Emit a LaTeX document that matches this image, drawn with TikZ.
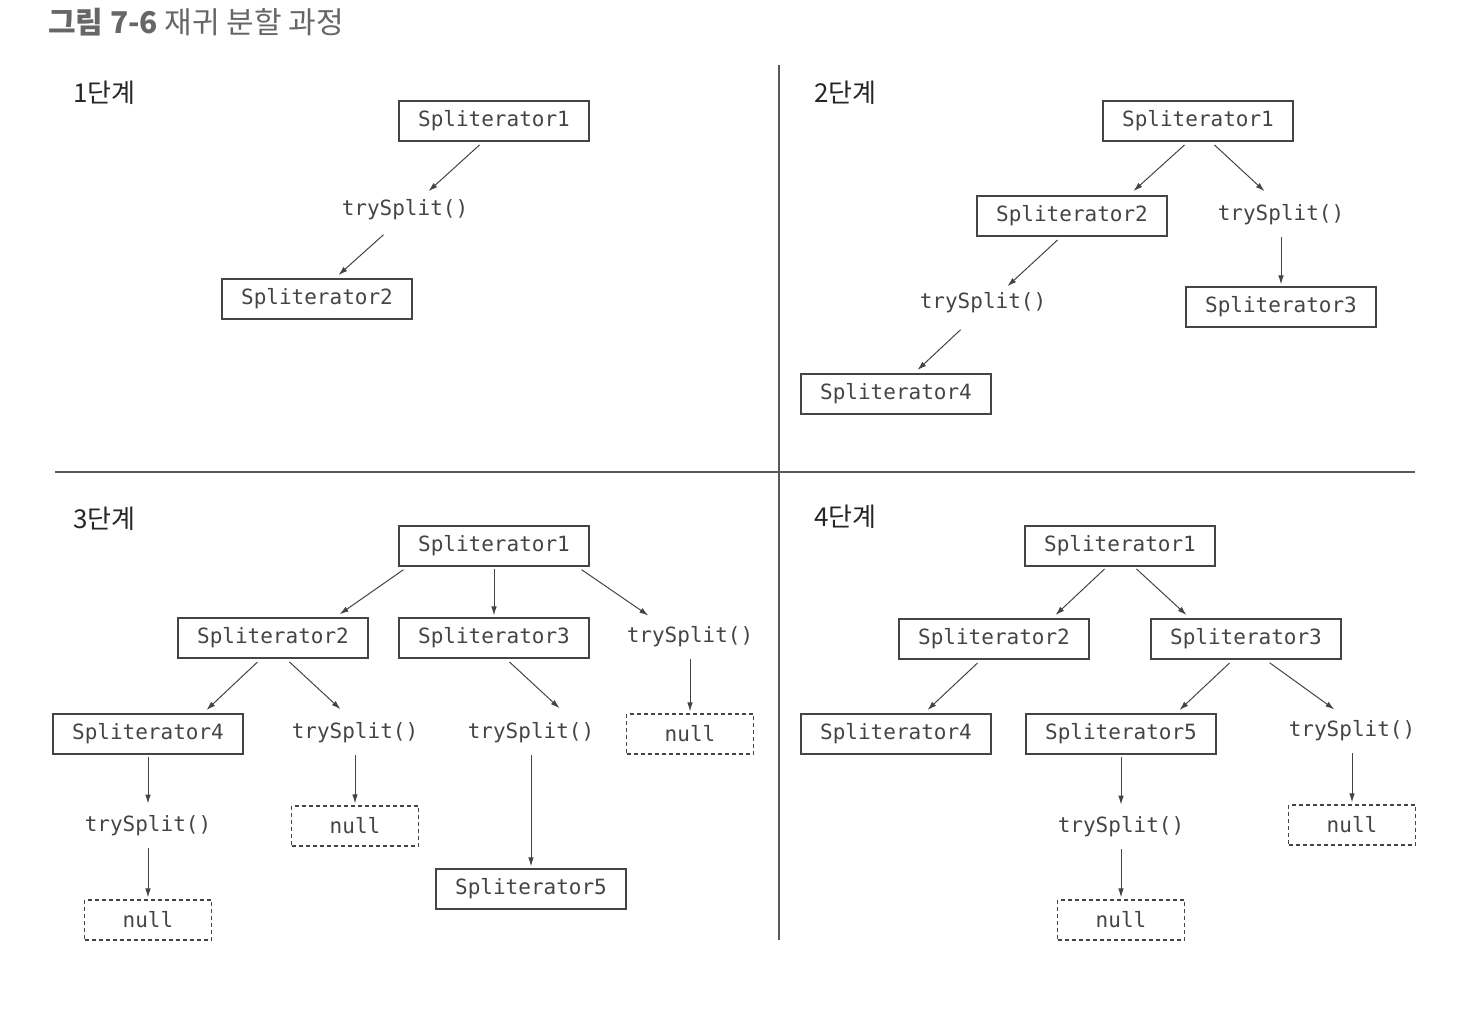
\documentclass[tikz,border=0pt]{standalone}
\usepackage{fontspec}
\setmonofont{DejaVu Sans Mono}
\newfontfamily\krfont{Noto Sans CJK KR}
\usetikzlibrary{arrows.meta,calc}
\definecolor{ink}{HTML}{444444}

\begin{document}
\begin{tikzpicture}[x=0.5pt, y=-0.5pt,
  font=\ttfamily\fontsize{10.5}{12}\selectfont, text=ink,
  sp/.style={draw=ink, line width=0.6pt, minimum width=95pt, minimum height=20pt, inner sep=0pt},
  nul/.style={sp, dash pattern=on 2pt off 1.5pt, minimum width=63.5pt},
  op/.style={minimum height=20pt, inner sep=0pt},
  fl/.style={-{Latex[length=4.5pt,width=2.8pt]}, draw=ink, line width=0.5pt,
             shorten <=1pt, shorten >=1pt},
  stage/.style={font=\krfont\fontsize{13}{15}\selectfont, text=black!85, anchor=west},
  sep/.style={draw=black!65, line width=0.6pt}]

\useasboundingbox (0,0) rectangle (1467,1023);

\node[anchor=west, font=\krfont\fontsize{15}{17}\selectfont, text=black!60] (title) at (41,22)
  {\textbf{그림 7-6} 재귀 분할 과정};

% the four panels
\draw[sep] (779,65) -- (779,940);
\draw[sep] (55,472) -- (1415,472);

% 1단계
\node[stage] (st1) at (66,93) {1단계};
\node[sp] (p1s1) at (494,121) {Spliterator1};
\node[op] (p1t) at (405,210) {trySplit()};
\node[sp] (p1s2) at (317,299) {Spliterator2};
\draw[fl] ($(p1s1.south)+(-13,2)$) -- ($(p1t.north)+(22,3)$);
\draw[fl] ($(p1t.south)+(-20,3)$) -- ($(p1s2.north)+(20,-2)$);

% 2단계
\node[stage] (st2) at (807,93) {2단계};
\node[sp] (p2s1) at (1198,121) {Spliterator1};
\node[sp] (p2s2) at (1072,216) {Spliterator2};
\node[op] (p2t1) at (1281,215) {trySplit()};
\node[sp] (p2s3) at (1281,307) {Spliterator3};
\node[op] (p2t2) at (983,303) {trySplit()};
\node[sp] (p2s4) at (896,394) {Spliterator4};
\draw[fl] ($(p2s1.south)+(-12,2)$) -- ($(p2s2.north)+(60,-3)$);
\draw[fl] ($(p2s1.south)+(15,2)$) -- ($(p2t1.north)+(-15,-2)$);
\draw[fl] (p2t1) -- (p2s3);
\draw[fl] ($(p2s2.south)+(-13,2)$) -- ($(p2t2.north)+(23,5)$);
\draw[fl] ($(p2t2.south)+(-21,5)$) -- ($(p2s4.north)+(20,-2)$);

% 3단계
\node[stage] (st3) at (66,519) {3단계};
\node[sp] (p3s1) at (494,546) {Spliterator1};
\node[sp] (p3s2) at (273,638) {Spliterator2};
\node[sp] (p3s3) at (494,638) {Spliterator3};
\node[op] (p3t1) at (690,637) {trySplit()};
\node[nul] (p3n1) at (690,734) {null};
\node[sp] (p3s4) at (148,734) {Spliterator4};
\node[op] (p3t2) at (355,733) {trySplit()};
\node[op] (p3t3) at (531,733) {trySplit()};
\node[op] (p3t4) at (148,826) {trySplit()};
\node[nul] (p3n2) at (355,826) {null};
\node[nul] (p3n3) at (148,920) {null};
\node[sp] (p3s5) at (531,889) {Spliterator5};
\draw[fl] ($(p3s1.south)+(-89,2)$) -- ($(p3s2.north)+(65,-2)$);
\draw[fl] (p3s1) -- (p3s3);
\draw[fl] ($(p3s1.south)+(86,2)$) -- ($(p3t1.north)+(-40,0)$);
\draw[fl] ($(p3s2.south)+(-14,2)$) -- ($(p3s4.north)+(57,-2)$);
\draw[fl] ($(p3s2.south)+(15,2)$) -- ($(p3t2.north)+(-13,-2)$);
\draw[fl] ($(p3s3.south)+(14,2)$) -- ($(p3t3.north)+(30,-3)$);
\draw[fl] (p3t1) -- (p3n1);
\draw[fl] (p3s4) -- (p3t4);
\draw[fl] (p3t2) -- (p3n2);
\draw[fl] (p3t3) -- (p3s5);
\draw[fl] (p3t4) -- (p3n3);

% 4단계
\node[stage] (st4) at (807,517) {4단계};
\node[sp] (p4s1) at (1120,546) {Spliterator1};
\node[sp] (p4s2) at (994,639) {Spliterator2};
\node[sp] (p4s3) at (1246,639) {Spliterator3};
\node[sp] (p4s4) at (896,734) {Spliterator4};
\node[sp] (p4s5) at (1121,734) {Spliterator5};
\node[op] (p4t1) at (1352,731) {trySplit()};
\node[nul] (p4n1) at (1352,825) {null};
\node[op] (p4t2) at (1121,827) {trySplit()};
\node[nul] (p4n2) at (1121,920) {null};
\draw[fl] ($(p4s1.south)+(-14,1)$) -- ($(p4s2.north)+(60,-2)$);
\draw[fl] ($(p4s1.south)+(15,1)$) -- ($(p4s3.north)+(-58,-2)$);
\draw[fl] ($(p4s2.south)+(-15,2)$) -- ($(p4s4.north)+(30,-2)$);
\draw[fl] ($(p4s3.south)+(-15,2)$) -- ($(p4s5.north)+(57,-2)$);
\draw[fl] ($(p4s3.south)+(22,2)$) -- ($(p4t1.north)+(-16,0)$);
\draw[fl] (p4t1) -- (p4n1);
\draw[fl] (p4s5) -- (p4t2);
\draw[fl] (p4t2) -- (p4n2);
\end{tikzpicture}
\end{document}
